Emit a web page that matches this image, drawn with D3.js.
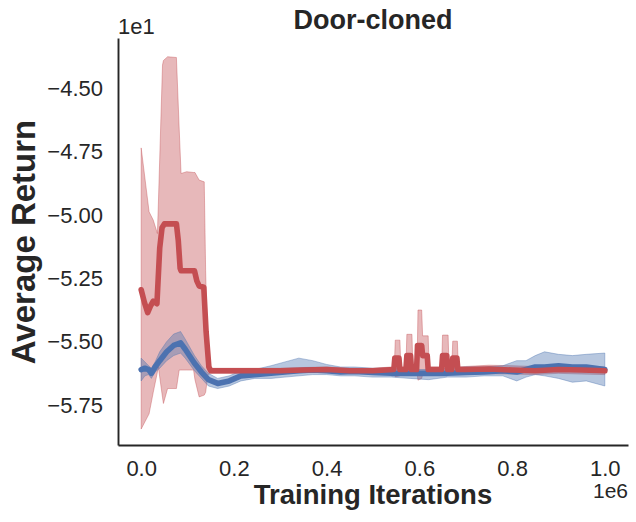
<!DOCTYPE html>
<html>
<head>
<meta charset="utf-8">
<script src="https://cdn.jsdelivr.net/npm/d3@7"></script>
<style>
  html, body { margin: 0; padding: 0; background: #fff; }
  svg text { font-family: 'Liberation Sans', Arial, sans-serif; fill: #262626; }
</style>
</head>
<body>
<div id="chart"></div>
<script>
// iterations in thousands, returns in raw units (axis shows them x1e1)
const redMeanIters = [0, 7, 14, 20, 26, 34, 40, 45, 50, 76, 80, 84, 86, 115, 120, 125, 135, 140, 146, 150,
  200, 250, 300, 350, 400, 450, 500, 545, 547, 556, 558, 571, 573, 581, 583, 594, 596, 605, 607, 617,
  619, 648, 650, 659, 661, 670, 672, 681, 683, 700, 750, 800, 850, 900, 950, 1000];
const redMean = [-52.95, -53.45, -53.85, -53.6, -53.4, -53.5, -51.3, -50.5, -50.35, -50.35, -51.0, -52.1, -52.2, -52.2, -52.6, -52.8, -52.85, -54.6, -56.0, -56.15,
  -56.15, -56.15, -56.15, -56.12, -56.1, -56.15, -56.15, -56.1, -55.65, -55.65, -56.1, -56.1, -55.55, -55.55, -56.1, -56.1, -55.15, -55.15, -55.55, -55.55,
  -56.1, -56.1, -55.55, -55.55, -56.1, -56.1, -55.65, -55.65, -56.1, -56.1, -56.08, -56.12, -56.15, -56.1, -56.12, -56.15];

const redBandIters = [0, 17, 26, 35, 37, 46, 48, 57, 76, 82, 86, 98, 113, 116, 125, 136, 139, 144, 150, 200,
  250, 300, 350, 400, 450, 500, 540, 546, 548, 558, 560, 571, 573, 584, 586, 595, 597, 605, 607, 619,
  621, 648, 650, 662, 664, 670, 672, 682, 684, 700, 750, 800, 850, 900, 950, 1000];
const redHi = [-47.35, -49.87, -50.2, -50.73, -49.6, -44.08, -43.9, -43.75, -43.78, -46.6, -48.36, -48.29, -48.32, -48.32, -48.62, -48.69, -52.2, -55.9, -56.05, -56.05,
  -56.05, -56.05, -56.02, -56.0, -56.05, -56.05, -56.0, -56.0, -54.94, -54.94, -56.0, -56.0, -54.71, -54.71, -56.0, -56.0, -53.75, -53.75, -54.77, -54.77,
  -56.0, -56.0, -54.74, -54.74, -56.0, -56.0, -54.98, -54.98, -56.0, -55.98, -55.93, -55.95, -55.98, -55.95, -55.95, -56.0];
const redLo = [-58.45, -57.85, -57.0, -56.2, -56.0, -57.2, -57.44, -56.85, -56.85, -56.12, -56.12, -56.12, -56.12, -56.5, -57.18, -57.11, -57.0, -56.3, -56.25, -56.25,
  -56.25, -56.25, -56.22, -56.2, -56.25, -56.25, -56.2, -56.25, -56.39, -56.35, -56.2, -56.2, -56.3, -56.25, -56.2, -56.25, -56.52, -56.45, -56.3, -56.25,
  -56.2, -56.2, -56.25, -56.25, -56.2, -56.2, -56.25, -56.25, -56.2, -56.22, -56.27, -56.28, -56.3, -56.25, -56.28, -56.3];

const blueIters = [0, 8, 16, 22, 30, 40, 55, 70, 85, 95, 115, 130, 145, 165, 190, 215, 245, 280, 310, 340,
  370, 400, 430, 460, 500, 540, 580, 620, 660, 700, 740, 780, 810, 830, 850, 870, 900, 930, 960, 1000];
const blueMean = [-56.1, -56.05, -56.1, -56.25, -56.0, -55.75, -55.4, -55.15, -55.05, -55.3, -55.85, -56.2, -56.5, -56.65, -56.55, -56.35, -56.3, -56.25, -56.2, -56.15,
  -56.12, -56.15, -56.2, -56.18, -56.22, -56.25, -56.25, -56.25, -56.25, -56.22, -56.2, -56.15, -56.2, -56.1, -56.0, -56.0, -55.95, -56.0, -56.0, -56.1];
const blueHi = [-55.65, -55.8, -55.95, -56.05, -55.8, -55.4, -55.0, -54.7, -54.6, -54.9, -55.55, -55.95, -56.25, -56.45, -56.35, -56.15, -56.1, -55.95, -55.8, -55.65,
  -55.75, -55.9, -56.0, -56.0, -56.05, -56.05, -56.1, -56.1, -56.05, -56.0, -56.0, -55.95, -55.75, -55.75, -55.55, -55.4, -55.5, -55.55, -55.5, -55.45];
const blueLo = [-56.55, -56.35, -56.3, -56.45, -56.2, -56.05, -55.75, -55.55, -55.45, -55.65, -56.15, -56.45, -56.75, -56.85, -56.75, -56.55, -56.45, -56.45, -56.4, -56.35,
  -56.3, -56.3, -56.35, -56.35, -56.4, -56.4, -56.45, -56.5, -56.4, -56.4, -56.35, -56.35, -56.55, -56.4, -56.3, -56.35, -56.45, -56.6, -56.55, -56.75];

const xTicks = [0, 200000, 400000, 600000, 800000, 1000000];
const yTicks = [-57.5, -55, -52.5, -50, -47.5, -45];
const chartTitle = 'Door-cloned';

const RED = '#C44E52';
const BLUE = '#4C72B0';

const W = 636;
const H = 522;
const plot = { left: 118, right: 628, top: 38, bottom: 445 };

const x = d3.scaleLinear().domain([-50000, 1050000]).range([plot.left, plot.right]);
const y = d3.scaleLinear().domain([-59.08, -43.01]).range([plot.bottom, plot.top]);

const svg = d3.select('#chart').append('svg')
  .attr('width', W)
  .attr('height', H);

const toLine = (iters, vals) => iters.map((t, i) => ({ t: t * 1000, v: vals[i] }));
const toBand = (iters, lo, hi) => iters.map((t, i) => ({ t: t * 1000, lo: lo[i], hi: hi[i] }));

const area = d3.area()
  .x(d => x(d.t))
  .y0(d => y(d.lo))
  .y1(d => y(d.hi));

const line = d3.line()
  .x(d => x(d.t))
  .y(d => y(d.v));

// bands first, then blue mean, red mean on top
[[toBand(redBandIters, redLo, redHi), RED], [toBand(blueIters, blueLo, blueHi), BLUE]].forEach(([band, col]) => {
  svg.append('path')
    .datum(band)
    .attr('d', area)
    .attr('fill', col)
    .attr('fill-opacity', 0.4)
    .attr('stroke', col)
    .attr('stroke-opacity', 0.4)
    .attr('stroke-width', 1);
});

[[toLine(blueIters, blueMean), BLUE], [toLine(redMeanIters, redMean), RED]].forEach(([pts, col]) => {
  svg.append('path')
    .datum(pts)
    .attr('d', line)
    .attr('fill', 'none')
    .attr('stroke', col)
    .attr('stroke-width', 5.6)
    .attr('stroke-linejoin', 'round')
    .attr('stroke-linecap', 'round');
});

const fmtY = d => `\u2212${Math.abs(d / 10).toFixed(2)}`;

const gx = svg.append('g')
  .attr('transform', `translate(0,${plot.bottom})`)
  .call(d3.axisBottom(x).tickValues(xTicks).tickSize(0).tickSizeOuter(0).tickPadding(15)
    .tickFormat(d => (d / 1e6).toFixed(1)));

const gy = svg.append('g')
  .attr('transform', `translate(${plot.left},0)`)
  .call(d3.axisLeft(y).tickValues(yTicks).tickSize(0).tickSizeOuter(0).tickPadding(15)
    .tickFormat(fmtY));

[gx, gy].forEach((g) => {
  g.select('.domain').attr('stroke', '#262626').attr('stroke-width', 1.9);
  g.selectAll('text')
    .style('font-size', '22px')
    .style('font-family', "'Liberation Sans', Arial, sans-serif")
    .attr('fill', '#262626');
});

// offset labels
svg.append('text')
  .attr('x', plot.left)
  .attr('y', 34)
  .style('font-size', '22px')
  .text('1e1');

svg.append('text')
  .attr('x', plot.right)
  .attr('y', 498)
  .attr('text-anchor', 'end')
  .style('font-size', '21px')
  .text('1e6');

svg.append('text')
  .attr('x', (plot.left + plot.right) / 2)
  .attr('y', 29)
  .attr('text-anchor', 'middle')
  .style('font-size', '27px')
  .style('font-weight', 'bold')
  .text(chartTitle);

svg.append('text')
  .attr('x', (plot.left + plot.right) / 2)
  .attr('y', 504)
  .attr('text-anchor', 'middle')
  .style('font-size', '27.5px')
  .style('font-weight', 'bold')
  .text('Training Iterations');

svg.append('text')
  .attr('transform', 'translate(35,242) rotate(-90)')
  .attr('text-anchor', 'middle')
  .style('font-size', '33px')
  .style('font-weight', 'bold')
  .text('Average Return');
</script>
</body>
</html>
